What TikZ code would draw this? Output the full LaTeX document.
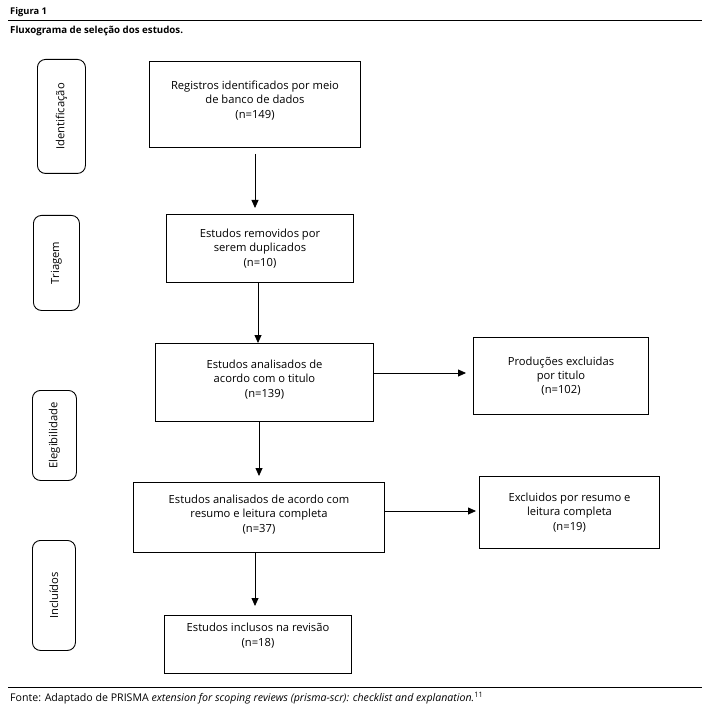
\documentclass[tikz,border=0pt]{standalone}
\usepackage{fontspec}
\setmainfont{Open Sans}
\usetikzlibrary{arrows.meta}
\begin{document}
\begin{tikzpicture}[x=1pt,y=-1pt,
  box/.style={draw,line width=1pt,rectangle,inner sep=0pt,anchor=north west},
  side/.style={draw,line width=0.9pt,rounded corners=8pt,inner sep=0pt,anchor=north west},
  lbl/.style={font=\fontsize{11.2}{14.3}\selectfont,align=center},
  slbl/.style={font=\fontsize{11.2}{13}\selectfont,rotate=90},
  arr/.style={line width=0.8pt,-{Triangle[length=8pt,width=7pt]}}]
\useasboundingbox (0,0) rectangle (710,711);
% header
\node[anchor=west,inner sep=0pt,font=\fontsize{9.3}{10}\selectfont\bfseries] (fig) at (10,12) {Figura 1};
\coordinate (tl) at (8,20); \coordinate (tr) at (702,20);
\draw[line width=0.8pt] (tl) -- (tr);
\node[anchor=west,inner sep=0pt,font=\fontsize{9.7}{10}\selectfont\bfseries] (cap) at (10,31) {Fluxograma de seleção dos estudos.};
% side boxes
\node[side,minimum width=48pt,minimum height=114pt] (s1) at (37,59) {};
\node[slbl] at (s1.center) {Identificação};
\node[side,minimum width=46pt,minimum height=95pt] (s2) at (33,215) {};
\node[slbl] at (s2.center) {Triagem};
\node[side,minimum width=44pt,minimum height=90pt] (s3) at (32,390) {};
\node[slbl] at (s3.center) {Elegibilidade};
\node[side,minimum width=43pt,minimum height=110pt] (s4) at (32,540) {};
\node[slbl] at (s4.center) {Incluídos};
% main boxes
\node[box,minimum width=211pt,minimum height=86pt,label={[lbl,yshift=4pt]center:{Registros identificados por meio\\de banco de dados\\(n=149)}}] (b1) at (149,61) {};
\node[box,minimum width=187pt,minimum height=68pt,label={[lbl]center:{Estudos removidos por\\serem duplicados\\(n=10)}}] (b2) at (166,214) {};
\node[box,minimum width=218pt,minimum height=78pt,label={[lbl,yshift=3pt]center:{Estudos analisados de\\acordo com o titulo\\(n=139)}}] (b3) at (155,343) {};
\node[box,minimum width=175pt,minimum height=77pt,label={[lbl]center:{Produções excluidas\\por titulo\\(n=102)}}] (p) at (473,337) {};
\node[box,minimum width=251pt,minimum height=70pt,label={[lbl,yshift=3pt]center:{Estudos analisados de acordo com\\resumo e leitura completa\\(n=37)}}] (b4) at (133,482) {};
\node[box,minimum width=180pt,minimum height=72pt,label={[lbl]center:{Excluidos por resumo e\\leitura completa\\(n=19)}}] (e) at (479,476) {};
\node[box,minimum width=187pt,minimum height=58pt,label={[lbl,yshift=9pt]center:{Estudos inclusos na revisão\\(n=18)}}] (b5) at (164,615) {};
% arrows
\draw[arr,shorten <=6pt,shorten >=6pt] (b1.south -| 255,0) -- (b2.north -| 255,0);
\draw[arr] (b2.south -| 258,0) -- (b3.north -| 258,0);
\draw[arr,shorten >=6pt] (b3.south -| 259,0) -- (b4.north -| 259,0);
\draw[arr,shorten >=9pt] (b4.south -| 255,0) -- (b5.north -| 255,0);
\draw[arr,shorten >=7pt] (b3.east |- 0,373) -- (p.west |- 0,373);
\draw[arr,shorten >=3pt] (b4.east |- 0,511) -- (e.west |- 0,511);
% footer
\coordinate (bl) at (8,687); \coordinate (br) at (702,687);
\draw[line width=0.8pt] (bl) -- (br);
\node[anchor=west,inner sep=0pt,font=\fontsize{10.6}{12}\selectfont] (src) at (10,698) {Fonte: Adaptado de PRISMA \textit{extension for scoping reviews (prisma-scr): checklist and explanation.}\textsuperscript{11}};
\end{tikzpicture}
\end{document}
